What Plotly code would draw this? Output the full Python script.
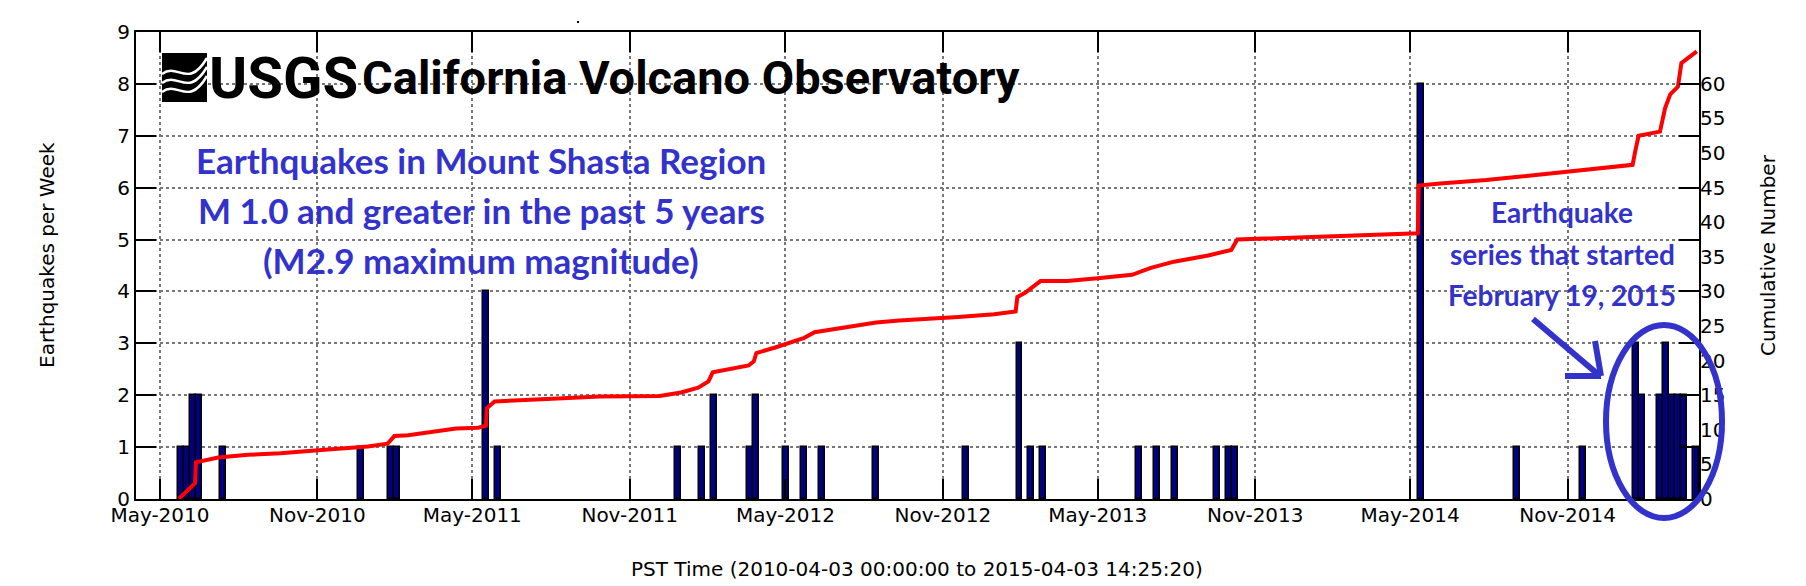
import pandas as pd
import plotly.graph_objects as go

# weekly earthquake counts (week start dates)
week_start = ["2010-05-22", "2010-05-29", "2010-06-05", "2010-06-12", "2010-07-10",
              "2010-12-18", "2011-01-22", "2011-01-29", "2011-05-14", "2011-05-28",
              "2011-12-24", "2012-01-21", "2012-02-04", "2012-03-17", "2012-03-24",
              "2012-04-28", "2012-05-19", "2012-06-09", "2012-08-11", "2012-11-24",
              "2013-01-26", "2013-02-09", "2013-02-23", "2013-06-15", "2013-07-06",
              "2013-07-27", "2013-09-14", "2013-09-28", "2013-10-05", "2014-05-10",
              "2014-08-30", "2014-11-15", "2015-01-17", "2015-01-24", "2015-02-14",
              "2015-02-21", "2015-02-28", "2015-03-07", "2015-03-14", "2015-03-28"]
week_count = [1, 1, 2, 2, 1,
              1, 1, 1, 4, 1,
              1, 1, 2, 1, 2,
              1, 1, 1, 1, 1,
              3, 1, 1, 1, 1,
              1, 1, 1, 1, 8,
              1, 1, 3, 2, 2,
              3, 2, 2, 2, 1]

# cumulative number curve
cum_dates = ["2010-05-23", "2010-06-09", "2010-06-11", "2010-06-12", "2010-06-26",
             "2010-07-08", "2010-08-12", "2010-09-19", "2010-10-29", "2010-12-15",
             "2010-12-30", "2011-01-22", "2011-01-30", "2011-02-15", "2011-03-18",
             "2011-04-12", "2011-05-08", "2011-05-17", "2011-05-18", "2011-05-27",
             "2011-07-21", "2011-09-27", "2011-12-06", "2011-12-31", "2012-01-20",
             "2012-02-01", "2012-02-06", "2012-02-24", "2012-03-19", "2012-03-25",
             "2012-03-28", "2012-04-19", "2012-04-30", "2012-05-23", "2012-06-04",
             "2012-07-10", "2012-08-15", "2012-09-11", "2012-10-16", "2012-11-19",
             "2012-12-31", "2013-01-25", "2013-01-27", "2013-02-05", "2013-02-23",
             "2013-03-26", "2013-05-01", "2013-06-10", "2013-07-02", "2013-07-29",
             "2013-09-07", "2013-10-04", "2013-10-11", "2013-12-01", "2014-02-12",
             "2014-04-25", "2014-05-10", "2014-05-11", "2014-06-05", "2014-07-29",
             "2014-09-26", "2014-12-03", "2015-01-16", "2015-01-19", "2015-01-23",
             "2015-02-17", "2015-02-23", "2015-03-01", "2015-03-10", "2015-03-14",
             "2015-04-01"]
cum_values = [0.0, 2.1, 2.3, 5.3, 5.7,
              6.0, 6.4, 6.6, 7.0, 7.4,
              7.6, 8.0, 9.1, 9.2, 9.8,
              10.2, 10.3, 10.6, 13.1, 14.1,
              14.4, 14.8, 14.9, 15.4, 16.1,
              17.0, 18.3, 18.7, 19.3, 19.9,
              21.1, 21.9, 22.4, 23.3, 24.1,
              24.8, 25.5, 25.8, 26.0, 26.3,
              26.7, 27.1, 29.2, 29.8, 31.5,
              31.5, 31.9, 32.4, 33.4, 34.3,
              35.2, 36.0, 37.5, 37.7, 38.0,
              38.3, 38.4, 45.3, 45.6, 46.1,
              46.9, 47.7, 48.3, 50.2, 52.5,
              53.1, 56.5, 58.5, 59.6, 63.0,
              64.7]

tick_dates = ["2010-05-01", "2010-11-01", "2011-05-01", "2011-11-01", "2012-05-01",
              "2012-11-01", "2013-05-01", "2013-11-01", "2014-05-01", "2014-11-01"]
tick_text = ["May-2010", "Nov-2010", "May-2011", "Nov-2011", "May-2012",
             "Nov-2012", "May-2013", "Nov-2013", "May-2014", "Nov-2014"]
cum_ticks = list(range(0, 61, 5))

W, H = 1806, 586
L, R, T, B = 128, 1691, 24, 491
BLUE = "#3333CC"


def px(x):
    return (x - L) / (R - L)


def py(y):
    return (B - y) / (B - T)


week_ms = 7 * 24 * 3600 * 1000

fig = go.Figure()
fig.add_trace(go.Bar(x=pd.to_datetime(week_start), y=week_count, width=week_ms, offset=0,
                     marker=dict(color="#000080", line=dict(color="black", width=1.5)),
                     yaxis="y"))
fig.add_trace(go.Scatter(x=pd.to_datetime(cum_dates), y=cum_values, mode="lines",
                         line=dict(color="#FF0000", width=4), yaxis="y2"))

tickfont = dict(family="DejaVu Sans", size=20, color="black")
fig.update_layout(
    width=W, height=H,
    margin=dict(l=L, r=W - R, t=T, b=H - B),
    plot_bgcolor="white", paper_bgcolor="white",
    showlegend=False, bargap=0,
    xaxis=dict(type="date", range=["2010-04-03", "2015-04-03 14:25:20"],
               tickvals=tick_dates, ticktext=tick_text, tickfont=tickfont,
               ticks="inside", ticklen=20, tickwidth=1.5, tickcolor="black",
               ticklabelstandoff=-3,
               showline=True, linecolor="black", linewidth=2, mirror="ticks",
               showgrid=True, gridcolor="#777777", griddash="dot", gridwidth=1.5),
    yaxis=dict(range=[0, 9], dtick=1, tickfont=tickfont,
               ticks="inside", ticklen=20, tickwidth=1.5, tickcolor="black",
               showline=True, linecolor="black", linewidth=2, mirror="ticks",
               showgrid=True, gridcolor="#777777", griddash="dot", gridwidth=1.5,
               zeroline=False),
    yaxis2=dict(range=[0, 67.5], overlaying="y", side="right", tickvals=cum_ticks,
                tickfont=tickfont, ticks="", showgrid=False, zeroline=False,
                showline=False),
)

ann = []
# axis titles
ann.append(dict(text="Earthquakes per Week", x=px(39), y=py(247), textangle=-90,
                font=dict(family="DejaVu Sans", size=20, color="black")))
ann.append(dict(text="Cumulative Number", x=px(1760), y=py(247), textangle=-90,
                font=dict(family="DejaVu Sans", size=20, color="black")))
ann.append(dict(text="PST Time (2010-04-03 00:00:00 to 2015-04-03 14:25:20)",
                x=px(909), y=py(561), font=dict(family="DejaVu Sans", size=20, color="black")))
# header
ann.append(dict(text="<b>USGS</b>", x=px(199), y=py(70), xanchor="left",
                font=dict(family="Roboto", size=58, color="black")))
ann.append(dict(text="<b>California Volcano Observatory</b>", x=px(352), y=py(70),
                xanchor="left", font=dict(family="Roboto", size=47, color="black")))
# blue text
for txt, yy in [("Earthquakes in Mount Shasta Region", 152),
                ("M 1.0 and greater in the past 5 years", 202),
                ("(M2.9 maximum magnitude)", 252)]:
    ann.append(dict(text="<b>" + txt + "</b>", x=px(473), y=py(yy),
                    font=dict(family="Lato", size=35, color=BLUE)))
for txt, yy in [("Earthquake", 204), ("series that started", 246), ("February 19, 2015", 287)]:
    ann.append(dict(text="<b>" + txt + "</b>", x=px(1554), y=py(yy),
                    font=dict(family="Lato", size=28, color=BLUE)))
for a in ann:
    a.update(xref="paper", yref="paper", showarrow=False)
    a.setdefault("xanchor", "center")
    a.setdefault("yanchor", "middle")
fig.update_layout(annotations=ann)

shapes = []
# logo box with waves
shapes.append(dict(type="rect", x0=px(154), x1=px(199), y0=py(94), y1=py(45),
                   fillcolor="black", line=dict(width=0)))
for off in [0, 9, 18]:
    shapes.append(dict(type="path",
                       path="M %f,%f C %f,%f %f,%f %f,%f" % (
                           px(154), py(72 + off - 6), px(170), py(60 + off - 6),
                           px(180), py(88 + off - 6), px(199), py(62 + off - 12)),
                       line=dict(color="white", width=2.5)))
# arrow
for x0, y0, x1, y1 in [(1525, 311, 1592, 368), (1557, 368, 1593, 368), (1587, 333, 1593, 368)]:
    shapes.append(dict(type="line", x0=px(x0), y0=py(y0), x1=px(x1), y1=py(y1),
                       line=dict(color=BLUE, width=6)))
# ellipse
shapes.append(dict(type="circle", x0=px(1598), x1=px(1714), y0=py(510), y1=py(317),
                   line=dict(color=BLUE, width=6)))
shapes.append(dict(type="rect", x0=px(569), x1=px(571), y0=py(15), y1=py(13),
                   fillcolor="black", line=dict(width=0)))
for s in shapes:
    s.update(xref="paper", yref="paper", layer="above")
fig.update_layout(shapes=shapes)

fig.write_html("out.html")
